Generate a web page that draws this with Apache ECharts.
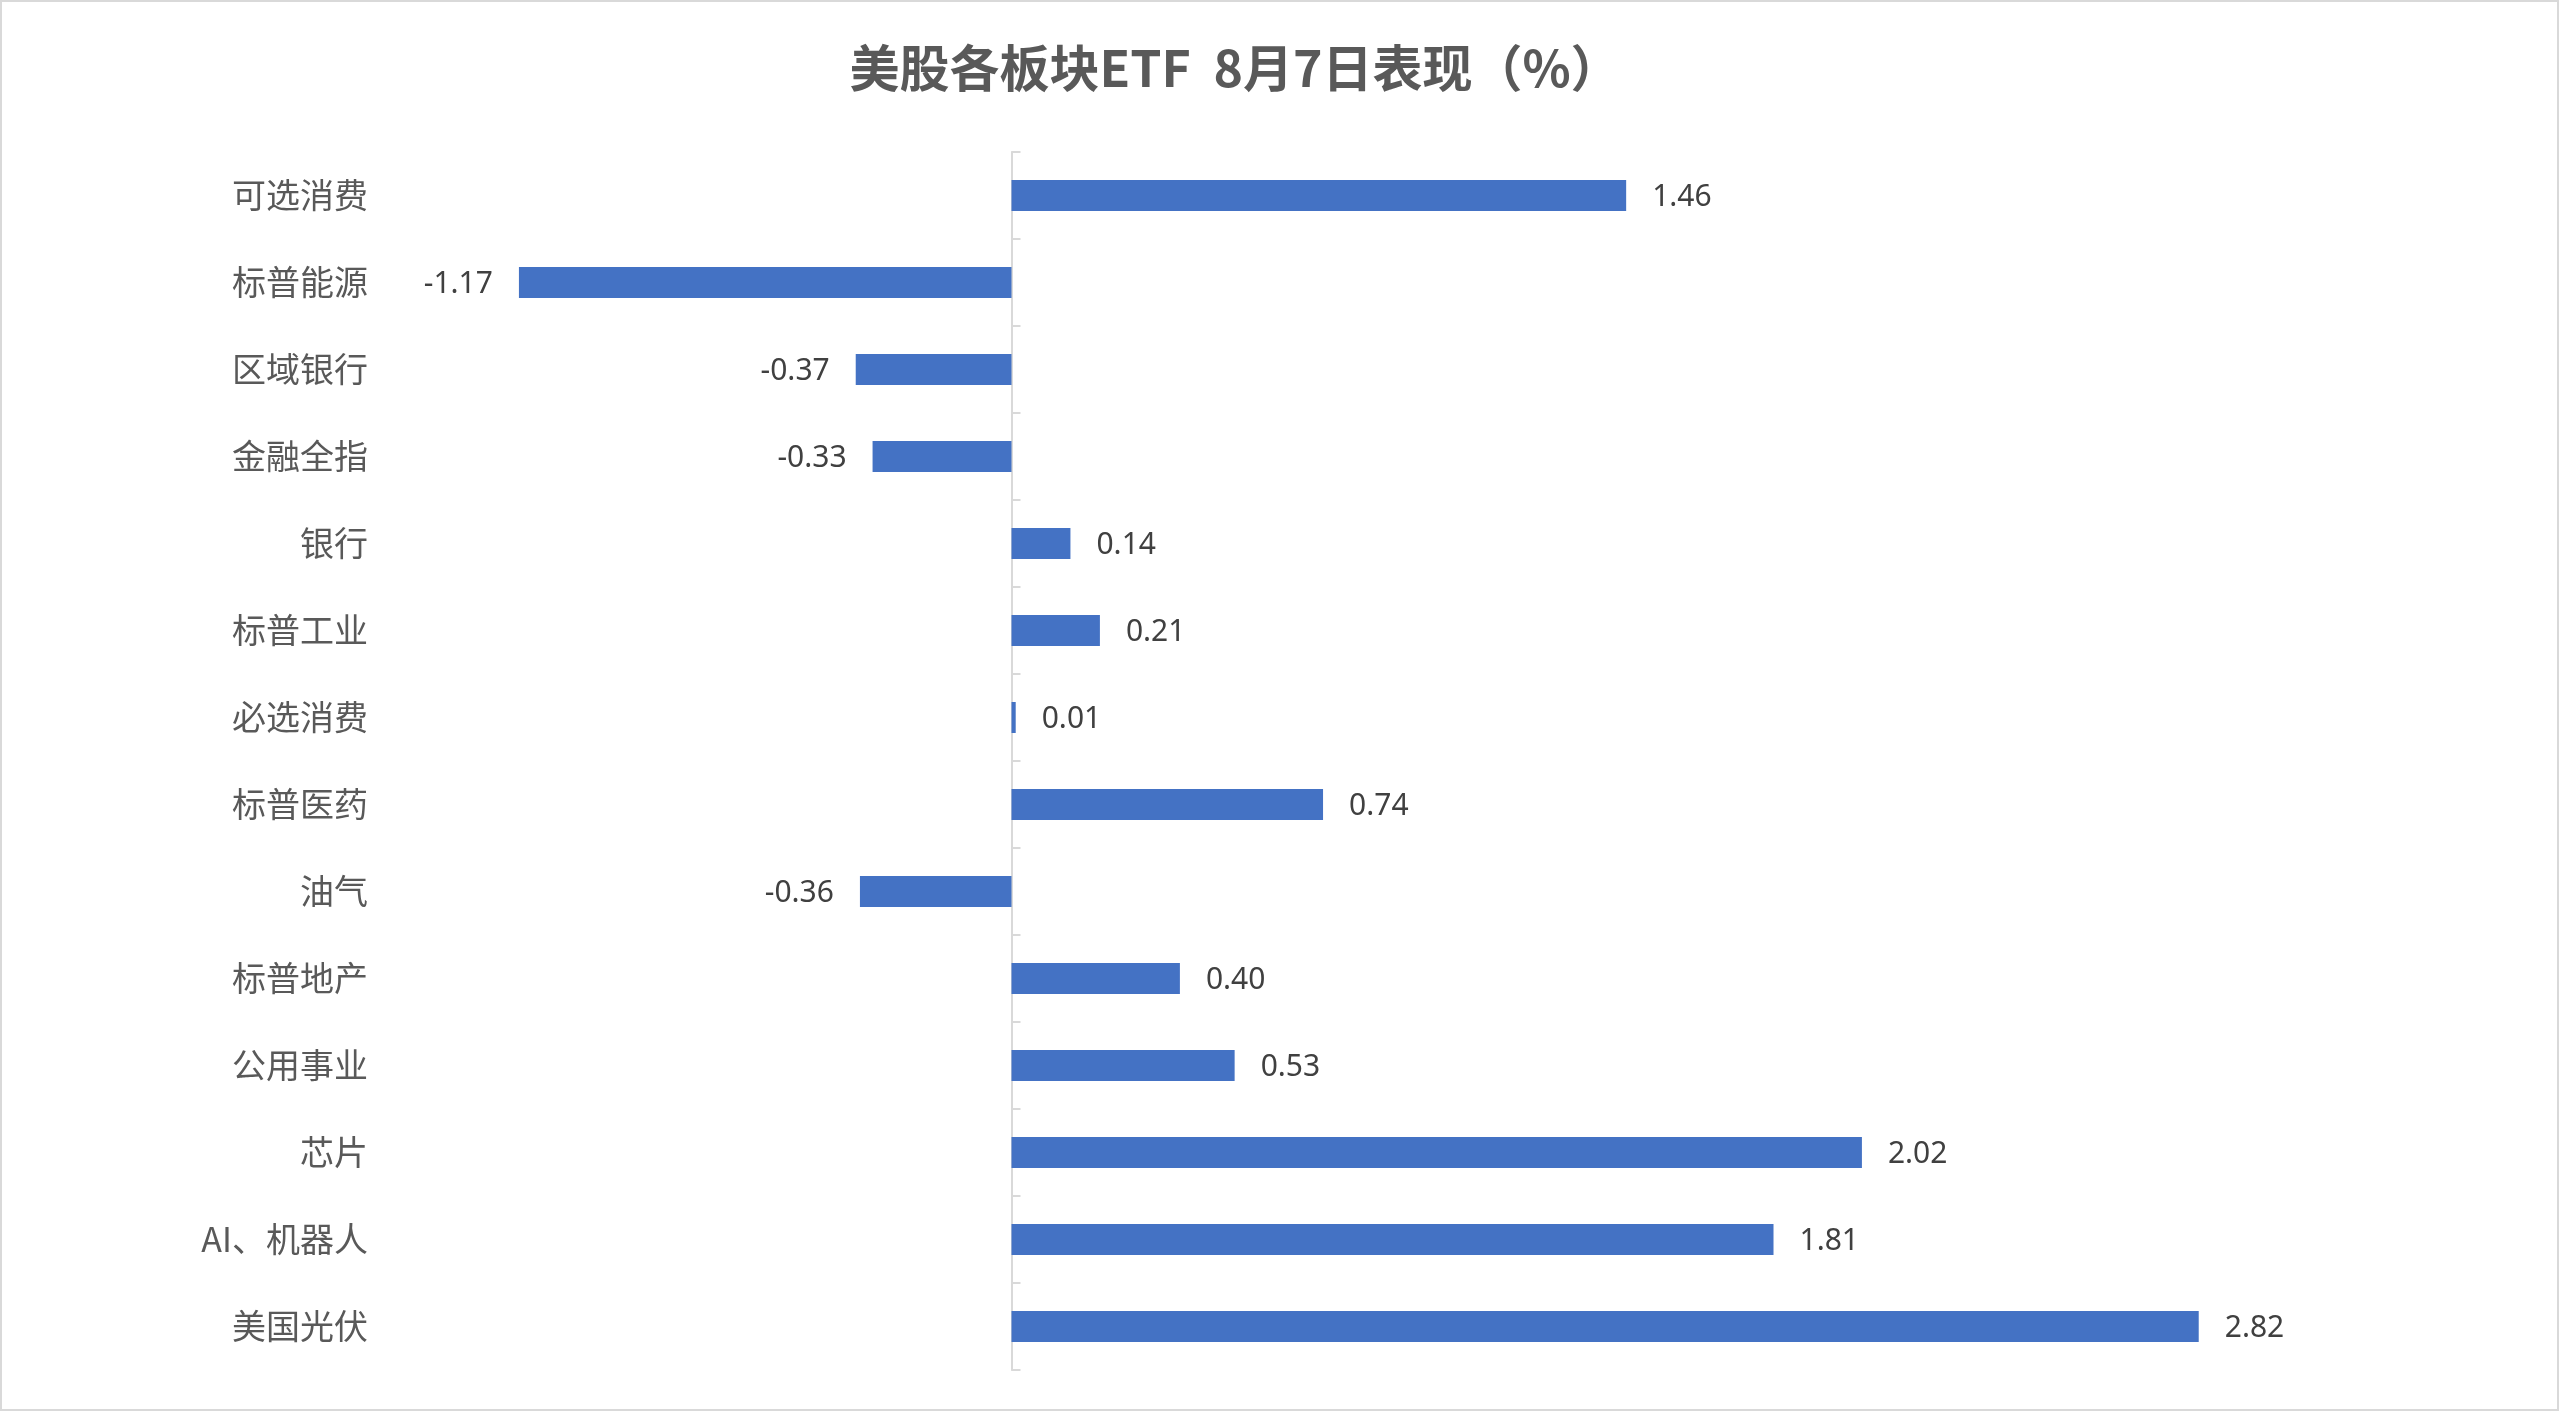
<!DOCTYPE html>
<html>
<head>
<meta charset="utf-8">
<script src="https://cdn.jsdelivr.net/npm/echarts@6/dist/echarts.min.js"></script>
<style>
  html, body { margin: 0; padding: 0; background: #fff; }
  #chart { width: 2560px; height: 1412px; }
</style>
</head>
<body>
<div id="chart"></div>
<script>
// 板块名称（自上而下）
var sectors = ['可选消费', '标普能源', '区域银行', '金融全指', '银行', '标普工业', '必选消费',
    '标普医药', '油气', '标普地产', '公用事业', '芯片', 'AI、机器人', '美国光伏'];
// 8月7日涨跌幅（%）
var changes = [1.46, -1.17, -0.37, -0.33, 0.14, 0.21, 0.01, 0.74, -0.36, 0.40, 0.53, 2.02, 1.81, 2.82];

var xMin = -1.5;
var xMax = 3.5;

// 负值标签放在柱子左侧
var barData = changes.map(function (v) {
    return {
        value: v,
        label: { position: v < 0 ? 'left' : 'right' }
    };
});

var myChart = echarts.init(document.getElementById('chart'));

var option = {
    backgroundColor: '#ffffff',
    animation: false,
    title: {
        text: '美股各板块ETF  8月7日表现（%）',
        left: 1230,
        top: 38,
        textAlign: 'center',
        textStyle: {
            fontFamily: 'Noto Sans CJK SC',
            fontSize: 50,
            fontWeight: 'bold',
            color: '#595959'
        }
    },
    graphic: [{
        type: 'rect',
        shape: { x: 1, y: 1, width: 2557, height: 1409 },
        style: { fill: 'none', stroke: '#d9d9d9', lineWidth: 2 },
        silent: true
    }],
    grid: {
        left: 380,
        right: 75,
        top: 152,
        bottom: 42,
        containLabel: false
    },
    xAxis: {
        type: 'value',
        min: xMin,
        max: xMax,
        show: false
    },
    yAxis: [{
        // 左侧类目标签
        type: 'category',
        data: sectors,
        inverse: true,
        position: 'left',
        axisLine: { show: false, onZero: false },
        axisTick: { show: false },
        axisLabel: {
            margin: 12,
            fontFamily: 'Noto Sans CJK SC',
            fontSize: 34,
            color: '#595959'
        }
    }, {
        // 0 轴线 + 刻度
        type: 'category',
        data: sectors,
        inverse: true,
        position: 'left',
        axisLine: { show: true, onZero: true, lineStyle: { color: '#d9d9d9', width: 2 } },
        axisTick: { show: true, inside: true, length: 9, lineStyle: { color: '#d9d9d9', width: 2 } },
        axisLabel: { show: false }
    }],
    series: [{
        type: 'bar',
        yAxisIndex: 0,
        data: barData,
        barWidth: 31,
        itemStyle: { color: '#4472C4' },
        label: {
            show: true,
            position: 'right',
            distance: 26,
            offset: [0, 2],
            fontFamily: 'Noto Sans',
            fontSize: 30,
            color: '#404040',
            formatter: function (p) {
                return p.value.toFixed(2);
            }
        }
    }]
};

myChart.setOption(option);
</script>
</body>
</html>
